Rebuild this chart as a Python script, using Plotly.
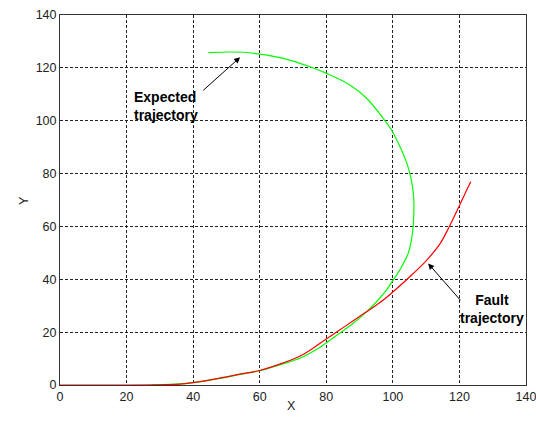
import plotly.graph_objects as go

# Expected trajectory (green)
exp_x = [27.5, 33, 36, 40, 48, 54, 60, 66, 72, 78, 84, 88, 91.6, 95.1, 98, 100.1, 102.3, 104.6, 105.6, 106.1, 106.3, 106.3, 105.9, 105.1, 103.9, 102.6, 99.6, 97.1, 92.1, 87.1, 80.1, 75.1, 67.1, 60.1, 55, 51.1, 44.6]
exp_y = [0.1, 0.2, 0.4, 0.9, 2.5, 4.0, 5.4, 7.6, 10.1, 14.2, 19.6, 23.3, 27.1, 31.5, 35.8, 39.7, 44.0, 49.8, 55, 59.9, 65, 70, 75, 80.1, 85, 88.9, 96.5, 100.9, 108.5, 113.5, 117.9, 120.4, 123.6, 125.2, 125.9, 126.0, 125.8]

# Fault trajectory (red)
flt_x = [0, 20, 30, 36, 40, 48, 54, 60, 66, 72, 76, 80, 84, 88, 91.6, 95, 97.6, 100, 104.6, 110, 114.1, 116.9, 120.2, 121.7, 123.4]
flt_y = [0, 0, 0.1, 0.3, 0.9, 2.6, 4.1, 5.5, 7.9, 10.9, 13.9, 17.4, 20.8, 24.2, 27.3, 30.2, 32.6, 35.2, 40.4, 47.0, 53.3, 59.8, 68.4, 72.5, 76.9]

ticks = [0, 20, 40, 60, 80, 100, 120, 140]

FONT = "Arial, Liberation Sans, sans-serif"

fig = go.Figure()
fig.add_trace(go.Scatter(x=exp_x, y=exp_y, mode="lines",
                         line=dict(color="#00ff00", width=1.2, shape="spline", smoothing=1.0),
                         showlegend=False))
fig.add_trace(go.Scatter(x=flt_x, y=flt_y, mode="lines",
                         line=dict(color="#ff0000", width=1.2, shape="spline", smoothing=1.0),
                         showlegend=False))

axis_common = dict(range=[0, 140], tickvals=ticks, ticktext=[str(t) for t in ticks],
                   showgrid=True, gridcolor="#222222", griddash="3px,2px", gridwidth=1,
                   showline=True, linecolor="#333333", linewidth=1, mirror=True,
                   zeroline=False, ticks="", automargin=False, ticklabeloverflow="allow",
                   tickfont=dict(family=FONT, size=12.5, color="#222222"))

fig.update_layout(
    width=536, height=421,
    margin=dict(l=60, r=10, t=15, b=36),
    plot_bgcolor="white", paper_bgcolor="white",
    xaxis=dict(**axis_common),
    yaxis=dict(**axis_common),
)

# Axis titles
fig.add_annotation(x=0.497, y=-0.081, xref="paper", yref="paper", text="X", showarrow=False,
                   font=dict(family=FONT, size=12.5, color="#222222"))
fig.add_annotation(x=-0.0966, y=0.5, xref="paper", yref="paper", text="Y", showarrow=False,
                   textangle=-90, font=dict(family=FONT, size=12.5, color="#222222"))

# Arrows
fig.add_annotation(x=54.1, y=124, ax=42.6, ay=111, xref="x", yref="y", axref="x", ayref="y",
                   text="", showarrow=True, arrowhead=2, arrowsize=1.2, arrowwidth=1, arrowcolor="black")
fig.add_annotation(x=110.6, y=46, ax=120.7, ay=31.5, xref="x", yref="y", axref="x", ayref="y",
                   text="", showarrow=True, arrowhead=2, arrowsize=1.2, arrowwidth=1, arrowcolor="black")

# Labels
fig.add_annotation(x=31.9, y=105.4, xref="x", yref="y", text="<b>Expected<br>trajectory</b>",
                   showarrow=False, align="left",
                   font=dict(family=FONT, size=14, color="black"))
fig.add_annotation(x=129.8, y=28.6, xref="x", yref="y", text="<b>Fault<br>trajectory</b>",
                   showarrow=False, align="center",
                   font=dict(family=FONT, size=14, color="black"))

fig.write_html("out.html", config={"displayModeBar": False},
               post_script="document.body.style.margin='0';document.body.style.overflow='hidden';")
